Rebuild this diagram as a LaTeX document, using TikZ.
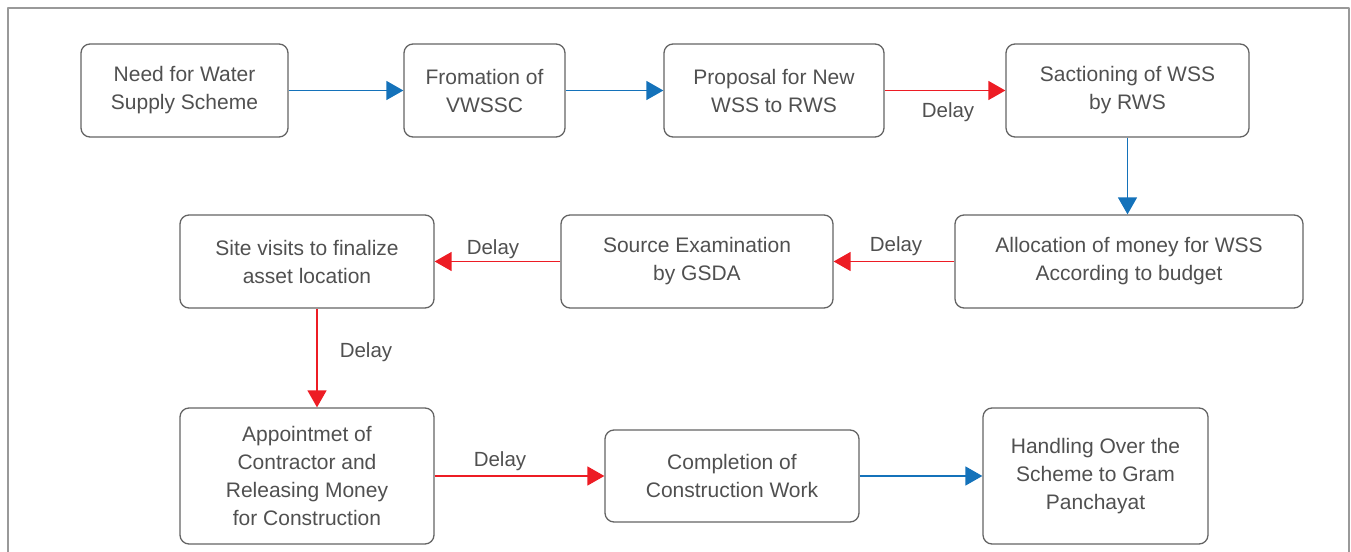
\documentclass[tikz,border=0pt]{standalone}
\usepackage{fontspec}
\setmainfont{Liberation Sans}
\usetikzlibrary{arrows.meta}
\definecolor{flowblue}{RGB}{20,114,186}
\definecolor{flowred}{RGB}{237,28,36}
\definecolor{boxgray}{RGB}{100,100,100}
\definecolor{txtgray}{RGB}{80,80,80}
\begin{document}
\begin{tikzpicture}[line join=bevel,
  box/.style={draw=boxgray,line width=1.3bp,rounded corners=9bp,align=center,
    text=txtgray,font=\fontsize{21bp}{28bp}\selectfont,inner sep=0bp,minimum height=93bp},
  bluearr/.style={draw=flowblue,line width=1.5bp,-{Triangle[length=17bp,width=19bp]}},
  redarr/.style={draw=flowred,line width=1.5bp,-{Triangle[length=17bp,width=19bp]}},
  delay/.style={text=txtgray,font=\fontsize{20.5bp}{24bp}\selectfont,inner sep=0bp}]
%%
\useasboundingbox (0bp,0bp) rectangle (1351bp,552bp);
\draw [line width=1.2bp,draw=black!40] (8bp,0bp) -- (8bp,544bp) -- (1349bp,544bp) -- (1349bp,0bp);
%% first row
  \node (need) at (184.5bp,461.5bp) [box,minimum width=207bp] {Need for Water\\Supply Scheme};
  \node (vwssc) at (484.5bp,461.5bp) [box,minimum width=161bp] {Fromation of\\VWSSC};
  \node (proposal) at (774bp,461.5bp) [box,minimum width=220bp] {Proposal for New\\WSS to RWS};
  \node (sanction) at (1127.5bp,461.5bp) [box,minimum width=243bp] {Sactioning of WSS\\by RWS};
%% second row
  \node (allocation) at (1129bp,290.5bp) [box,minimum width=348bp] {Allocation of money for WSS\\According to budget};
  \node (source) at (697bp,290.5bp) [box,minimum width=272bp] {Source Examination\\by GSDA};
  \node (sitevisit) at (307bp,290.5bp) [box,minimum width=254bp] {Site visits to finalize\\asset location};
%% third row
  \node (contractor) at (307bp,76bp) [box,minimum width=254bp,minimum height=136bp] {Appointmet of\\Contractor and\\Releasing Money\\for Construction};
  \node (completion) at (732bp,76bp) [box,minimum width=254bp,minimum height=92bp] {Completion of\\Construction Work};
  \node (handover) at (1095.5bp,76bp) [box,minimum width=225bp,minimum height=136bp] {Handling Over the\\Scheme to Gram\\Panchayat};
%% connectors
  \draw [bluearr] (need) -- (vwssc);
  \draw [bluearr] (vwssc) -- (proposal);
  \draw [redarr] (proposal) -- (sanction);
  \draw [bluearr] (sanction) -- (allocation.north -| sanction);
  \draw [redarr] (allocation) -- (source);
  \draw [redarr] (source) -- (sitevisit);
  \draw [redarr] ([xshift=10bp]sitevisit.south) -- ([xshift=10bp]contractor.north);
  \draw [redarr] (contractor) -- (completion);
  \draw [bluearr] (completion) -- (handover);
%% delay labels
  \node (d1) at (948bp,440bp) [delay] {Delay};
  \node (d2) at (896bp,306bp) [delay] {Delay};
  \node (d3) at (493bp,303bp) [delay] {Delay};
  \node (d4) at (366bp,200bp) [delay] {Delay};
  \node (d5) at (500bp,91bp) [delay] {Delay};
%
\end{tikzpicture}
\end{document}
